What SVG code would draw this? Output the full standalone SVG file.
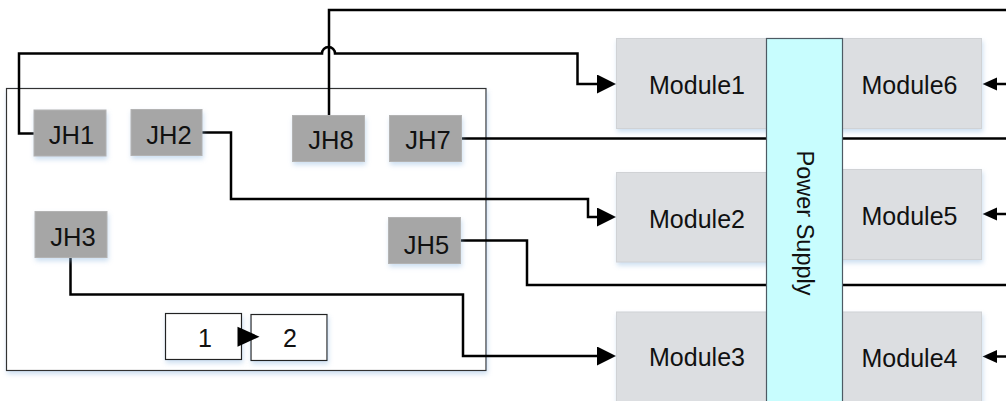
<svg xmlns="http://www.w3.org/2000/svg" width="1006" height="401" viewBox="0 0 1006 401">
<style>
  text { font-family: "Liberation Sans", Arial, sans-serif; fill: #111; }
  .jh rect { fill: #a6a6a6; stroke: #b3b3b3; stroke-width: 1; }
  .jh text { font-size: 25.5px; text-anchor: middle; }
  .mod rect { fill: #dcdee1; stroke: #d0d2d5; stroke-width: 1; }
  .mod text { font-size: 25px; text-anchor: middle; }
  .wire { fill: none; stroke: #000; stroke-width: 2.5; }
  .box { fill: #fff; stroke: #333; stroke-width: 1.2; }
  .small rect { fill: #fff; stroke: #222; stroke-width: 1.2; }
  .small text { font-size: 25px; text-anchor: middle; }
</style>
<defs>
  <filter id="sh" x="-20%" y="-20%" width="140%" height="150%">
    <feDropShadow dx="1" dy="3" stdDeviation="2.5" flood-color="#8fb8e0" flood-opacity="0.45"/>
  </filter>
  <marker id="arr" markerUnits="userSpaceOnUse" markerWidth="20" markerHeight="20" refX="0" refY="9.5" orient="auto">
    <path d="M0,0 L19,9.5 L0,19 Z" fill="#000"/>
  </marker>
  <marker id="arrs" markerUnits="userSpaceOnUse" markerWidth="16" markerHeight="14" refX="0" refY="6.5" orient="auto">
    <path d="M0,0 L14.5,6.5 L0,13 Z" fill="#000"/>
  </marker>
</defs>
<rect width="1006" height="401" fill="#fff"/>

<g id="board">
  <rect class="box" x="6.5" y="88.5" width="479.5" height="282" filter="url(#sh)"/>
</g>

<g id="box1" class="small"><rect x="165.5" y="313.5" width="76" height="46" filter="url(#sh)"/><text x="205" y="346.5">1</text></g>
<g id="box2" class="small"><rect x="251" y="314.5" width="76" height="46" filter="url(#sh)"/><text x="290" y="347">2</text></g>

<g id="connectors">
  <path class="wire" d="M34,133.5 H19 V53.5 H322 A6.5,6.5 0 0 1 335,53.5 H577.5 V84 H597" marker-end="url(#arr)"/>
  <path class="wire" d="M202,132.5 H231 V199 H588 V217 H597" marker-end="url(#arr)"/>
  <path class="wire" d="M70.5,257 V294.5 H463 V356 H597" marker-end="url(#arr)"/>
  <path class="wire" d="M460,240.5 H527 V285 H1006"/>
  <path class="wire" d="M461,138.5 H1006"/>
  <path class="wire" d="M329,115 V10 H1006"/>
  <path class="wire" d="M1006,84 H997" marker-end="url(#arrs)"/>
  <path class="wire" d="M1006,214 H997" marker-end="url(#arrs)"/>
  <path class="wire" d="M1006,356.5 H997" marker-end="url(#arrs)"/>
  <polygon points="237.5,326.7 259.5,336.7 237.5,346.7" fill="#000"/>
</g>

<g id="JH1" class="jh"><rect x="34" y="110" width="72" height="46" filter="url(#sh)"/><text x="71.5" y="144">JH1</text></g>
<g id="JH2" class="jh"><rect x="131" y="109.5" width="71" height="46" filter="url(#sh)"/><text x="169" y="143.5">JH2</text></g>
<g id="JH8" class="jh"><rect x="292.5" y="115.5" width="72" height="46" filter="url(#sh)"/><text x="331" y="149">JH8</text></g>
<g id="JH7" class="jh"><rect x="389.5" y="115.5" width="72" height="46" filter="url(#sh)"/><text x="428" y="149">JH7</text></g>
<g id="JH3" class="jh"><rect x="35" y="211.5" width="72" height="46" filter="url(#sh)"/><text x="73" y="245.5">JH3</text></g>
<g id="JH5" class="jh"><rect x="388.5" y="217.5" width="72" height="46" filter="url(#sh)"/><text x="426.5" y="254">JH5</text></g>

<g id="Module1" class="mod"><rect x="616.5" y="38.5" width="170" height="90" filter="url(#sh)"/><text x="697" y="94">Module1</text></g>
<g id="Module2" class="mod"><rect x="616.5" y="172.5" width="170" height="89.5" filter="url(#sh)"/><text x="697" y="227.5">Module2</text></g>
<g id="Module3" class="mod"><rect x="616.5" y="312" width="170" height="100" filter="url(#sh)"/><text x="697" y="366">Module3</text></g>
<g id="Module6" class="mod"><rect x="825" y="38.5" width="156.5" height="90" filter="url(#sh)"/><text x="909.5" y="94">Module6</text></g>
<g id="Module5" class="mod"><rect x="825" y="169.5" width="156.5" height="90" filter="url(#sh)"/><text x="909.5" y="225">Module5</text></g>
<g id="Module4" class="mod"><rect x="825" y="312" width="156.5" height="100" filter="url(#sh)"/><text x="909.5" y="366.5">Module4</text></g>

<g id="PowerSupply">
  <rect x="766.5" y="38.5" width="76" height="370" fill="#c8fdfe" stroke="#4d5a63" stroke-width="1.2"/>
  <text transform="translate(797,223) rotate(90)" font-size="23.5" text-anchor="middle">Power Supply</text>
</g>
</svg>
